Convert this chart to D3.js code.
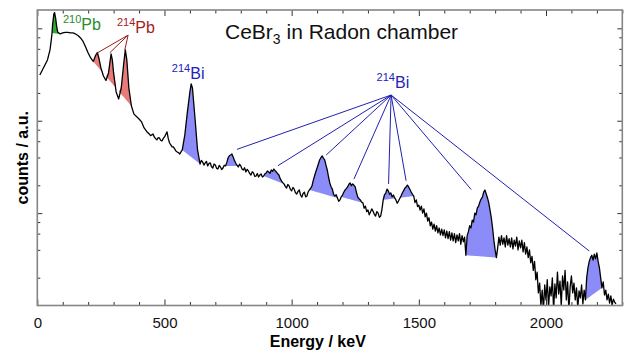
<!DOCTYPE html>
<html>
<head>
<meta charset="utf-8">
<script src="https://d3js.org/d3.v7.min.js"></script>
<style>
  body { margin: 0; background: #fff; }
  svg { display: block; font-family: Arial, "Liberation Sans", sans-serif; }
</style>
</head>
<body>
<script>
// spectrum: [energy keV, counts a.u.]
var spectrumLow = [
  [10,3130],[20,3540],[30,4020],[40,4550],[50,5840],[55,7490],[58,8900],[60,10850],[65,14280],[68,14830],
  [72,12930],[76,10590],[80,9150],[90,8700],[100,8920],[110,9030],[120,9030],[130,8920],[140,8920],
  [150,8700],[160,8380],[170,7880],[180,7220],[190,6290],[200,5420],[210,4780],[220,4380],[230,5150],
  [236,5480],[242,4780],[250,3730],[260,3050],[270,2730],[280,3290],[290,5280],[295,4550],[300,3290],
  [310,2050],[320,1720],[330,2260],[340,4220],[346,5840],[352,4550],[360,2260],[370,1443],[380,1180],
  [390,1110],[400,1043],[410,971],[420,836],[430,766],[440,720],[445,690],[450,702],[455,720],[460,668],
  [465,640],[470,620],[475,655],[480,651],[485,615],[490,604],[495,640],[500,668],[510,757],[515,640],
  [520,574],[525,548],[530,521],[535,520],[540,495],[545,470],[550,459],[555,452],[560,437],
  [570,483],[580,702],[590,1240],[600,2050],[605,2500],[610,2260],[620,1070],[630,483]
];
var spectrumMid = [
  [640,340],[645,372],[650,358],[655,331],[660,349],[665,362],[670,324],[675,345],[680,349],[685,318],
  [690,308],[695,340],[700,332],[705,305],[710,300],[715,328],[720,316],[725,296],[730,308],[735,330],
  [740,324],[745,352],[750,395],[755,418],[760,426],[765,437],[770,406],[775,372],[780,349],[785,330],
  [790,316],[795,338],[800,324],[805,300],[810,293],[815,310],[820,279],[825,298],[830,286],[835,268],
  [840,259],[845,280],[850,272],[855,250],[860,252],[865,268],[870,246],[875,258],[880,265],[885,246],
  [890,252],[895,266],[900,272],[905,286],[910,279],[915,270],[920,293],[925,284],[930,300],[935,288],
  [940,279],[945,266],[950,259],[955,236],[960,223],[965,214],[970,207],[975,195],[980,187],[985,204],
  [990,197],[995,181],[1000,174],[1005,190],[1010,182],[1015,166],[1020,161],[1025,172],[1030,178],
  [1035,157],[1040,149],[1045,163],[1050,169],[1055,150],[1060,153],[1065,170],[1070,178],[1075,186],
  [1080,197],[1085,226],[1090,252],[1095,280],[1100,308],[1105,340],[1110,376],[1115,398],[1120,416],
  [1125,392],[1130,376],[1135,330],[1140,293],[1145,246],[1150,212],[1155,193],[1160,182],[1165,160],
  [1170,153],[1175,158],[1180,146],[1185,134],[1190,139],[1195,150],[1200,157],[1205,168],[1210,178],
  [1215,184],[1220,192],[1225,205],[1230,212],[1235,198],[1240,207],[1245,200],[1250,192],[1255,166],
  [1260,149],[1265,143],[1270,139],[1275,132],[1280,129],[1285,113],[1290,119],[1295,104],[1300,108],
  [1305,96],[1310,103],[1315,111],[1320,105],[1325,97],[1330,93],[1335,104],[1340,100],[1345,90],
  [1350,93],[1355,110],[1360,139],[1365,158],[1370,165],[1375,182],[1380,174],[1385,160],[1390,165],
  [1395,150],[1400,157],[1405,146],[1410,139],[1415,128],[1420,135],[1425,144],[1430,153],[1435,165],
  [1440,174],[1445,186],[1450,192],[1455,201],[1460,192],[1465,180],[1470,169],[1475,160],[1480,153],
  [1485,130],[1490,139],[1495,118]
];
var spectrumHigh = [
  [1500,122],[1505,108],[1510,119],[1515,100],[1520,111],[1525,91],[1530,100],[1535,82],[1540,89],
  [1545,73],[1550,80],[1555,67],[1560,76],[1565,64],[1570,73],[1575,61],[1580,69],[1585,58],[1590,67],
  [1595,57],[1600,66],[1605,54],[1610,64],[1615,53],[1620,63],[1625,51],[1630,61],[1635,50],[1640,60],
  [1645,48],[1650,58],[1655,50],[1660,60],[1665,46],[1670,57],[1675,49],[1680,55],[1685,35],[1690,57],
  [1695,63],[1700,73],[1705,69],[1710,84],[1715,80],[1720,100],[1725,96],[1730,114],[1735,119],[1740,132],
  [1745,142],[1750,149],[1755,169],[1760,178],[1765,161],[1770,146],[1775,129],[1780,108],[1785,89],
  [1790,69],[1795,51],[1800,40],[1805,33],[1810,42],[1815,55],[1820,45],[1825,57],[1830,46],[1835,54],
  [1840,43],[1845,57],[1850,45],[1855,53],[1860,43],[1865,54],[1870,41],[1875,51],[1880,44],[1885,55],
  [1890,40],[1895,50],[1900,42],[1905,51],[1910,38],[1915,48],[1920,36],[1925,43],[1930,33],[1935,40],
  [1940,29],[1945,34],[1950,24],[1955,30],[1960,19],[1965,23],[1970,13.7],[1975,17.5],[1980,9.9],
  [1985,14.7],[1990,8.9],[1995,16.7],[2000,11.5],[2005,19],[2010,9.4],[2015,15.9],[2020,12.7],[2025,19.9],
  [2030,8.9],[2035,17.1],[2040,12.1],[2045,23],[2050,13.3],[2055,18.4],[2060,9.9],[2065,20.9],[2070,14.7],
  [2075,24],[2080,11.5],[2085,18],[2090,8.9],[2095,15.9],[2100,20.9],[2105,13.7],[2110,17.5],[2115,11.5],
  [2120,15.5],[2125,9.4],[2130,14.4],[2135,12.1],[2140,16.7],[2145,10.4],[2150,14.7],[2155,11.5],[2160,19.9],
  [2165,25.5],[2170,30],[2175,33],[2180,35],[2185,31],[2190,36],[2195,32],[2200,37],[2205,30],[2210,25.5],
  [2215,19.9],[2220,15.5],[2225,18],[2230,13],[2235,14.7],[2240,11.5],[2245,13.3],[2250,10.6],[2255,12.7],
  [2260,10.1],[2265,11.7],[2270,10.9],[2275,10.4]
];
var spectrum = spectrumLow.concat(spectrumMid, spectrumHigh);

// peak windows (keV) shaded above a straight background
var pb210Windows = [[58, 90]];
var pb214Windows = [[220, 370]];
var bi214Windows = [[565, 640], [740, 800], [890, 970], [1070, 1180], [1195, 1280], [1360, 1480], [1685, 1805], [2155, 2220]];

// pointer lines [keV, counts]
var pb214Apex = [357, 8450];
var pb214Targets = [[233, 5360], [285, 5440], [344, 5820]];
var bi214Apex = [1391, 1897];
var bi214Targets = [[785, 490], [946, 326], [1136, 426], [1245, 234], [1381, 207], [1450, 224], [1706, 180], [2170, 38.9]];

var xMajor = [0, 500, 1000, 1500, 2000];
var xTickLabels = ["0", "500", "1000", "1500", "2000"];

var width = 625, height = 351;

var svg = d3.select("body").append("svg")
    .attr("width", width)
    .attr("height", height);

var x = d3.scaleLinear().domain([0, 2300]).range([37.3, 622.3]);
var y = d3.scaleLog().domain([10, 15800]).range([305.5, 10]);

svg.append("clipPath").attr("id", "plot")
  .append("rect")
    .attr("x", x(0)).attr("y", y(15800))
    .attr("width", x(2300) - x(0)).attr("height", y(10) - y(15800));

var plot = svg.append("g").attr("clip-path", "url(#plot)");

function drawWindows(windows, color) {
  windows.forEach(function(w) {
    var pts = spectrum.filter(function(d) { return d[0] >= w[0] && d[0] <= w[1]; });
    var a = pts[0], b = pts[pts.length - 1];
    var base = d3.scaleLinear().domain([x(a[0]), x(b[0])]).range([y(a[1]), y(b[1])]);
    var area = d3.area()
        .x(function(d) { return x(d[0]); })
        .y0(function(d) { return base(x(d[0])); })
        .y1(function(d) { return Math.min(y(d[1]), base(x(d[0]))); });
    plot.append("path").datum(pts)
        .attr("d", area)
        .attr("fill", color);
  });
}

drawWindows(pb210Windows, "#33a833");
drawWindows(pb214Windows, "#e97a7a");
drawWindows(bi214Windows, "#8c8cf8");

plot.append("path").datum(spectrum)
    .attr("d", d3.line().x(function(d) { return x(d[0]); }).y(function(d) { return y(d[1]); }))
    .attr("fill", "none")
    .attr("stroke", "#000")
    .attr("stroke-width", 1.3)
    .attr("stroke-linejoin", "round");

// axes
var xMinor = d3.range(0, 2301, 100).filter(function(v) { return xMajor.indexOf(v) < 0; });
var yAll = y.ticks().filter(function(v) {
  var m = Math.round(v / Math.pow(10, Math.floor(Math.log10(v) + 1e-9)));
  return [1, 2, 4, 6, 8].indexOf(m) >= 0;
});
var yMajor = yAll.filter(function(v) { return Math.abs(Math.log10(v) - Math.round(Math.log10(v))) < 1e-6 && v > 10; });
var yMinor = yAll.filter(function(v) { return yMajor.indexOf(v) < 0 && v > 10; });

function styleAxis(g) {
  g.select(".domain").remove();
  g.selectAll(".tick line").attr("stroke", "#333").attr("stroke-width", 1);
}

svg.append("g").attr("transform", "translate(0," + y(10) + ")")
    .call(d3.axisBottom(x).tickValues(xMinor).tickSizeInner(-3.5).tickSizeOuter(0).tickFormat(""))
    .call(styleAxis);
svg.append("g").attr("transform", "translate(0," + y(10) + ")")
    .call(d3.axisBottom(x).tickValues(xMajor).tickSizeInner(-6).tickSizeOuter(0).tickPadding(12)
      .tickFormat(function(d, i) { return xTickLabels[i]; }))
    .call(styleAxis)
    .call(function(g) {
      g.selectAll("text").attr("font-size", 15).attr("fill", "#111")
        .attr("font-family", "Arial, 'Liberation Sans', sans-serif");
    });
svg.append("g").attr("transform", "translate(0," + y(15800) + ")")
    .call(d3.axisTop(x).tickValues(xMinor).tickSizeInner(-3.5).tickSizeOuter(0).tickFormat(""))
    .call(styleAxis);
svg.append("g").attr("transform", "translate(0," + y(15800) + ")")
    .call(d3.axisTop(x).tickValues(xMajor).tickSizeInner(-6).tickSizeOuter(0).tickFormat(""))
    .call(styleAxis);
[[d3.axisLeft, x(0)], [d3.axisRight, x(2300)]].forEach(function(p) {
  svg.append("g").attr("transform", "translate(" + p[1] + ",0)")
      .call(p[0](y).tickValues(yMinor).tickSizeInner(-3).tickSizeOuter(0).tickFormat(""))
      .call(styleAxis);
  svg.append("g").attr("transform", "translate(" + p[1] + ",0)")
      .call(p[0](y).tickValues(yMajor).tickSizeInner(-5).tickSizeOuter(0).tickFormat(""))
      .call(styleAxis);
});

svg.append("rect")
    .attr("x", x(0)).attr("y", y(15800))
    .attr("width", x(2300) - x(0)).attr("height", y(10) - y(15800))
    .attr("fill", "none")
    .attr("stroke", "#858585")
    .attr("stroke-width", 1.6);

// axis titles
svg.append("text")
    .attr("x", (x(0) + x(2300)) / 2 - 12).attr("y", 347)
    .attr("text-anchor", "middle")
    .attr("font-size", 16).attr("font-weight", "bold")
    .text("Energy / keV");
svg.append("text")
    .attr("transform", "translate(28," + ((y(10) + y(15800)) / 2) + ") rotate(-90)")
    .attr("text-anchor", "middle")
    .attr("font-size", 16).attr("font-weight", "bold")
    .text("counts / a.u.");

// title
var title = svg.append("text").attr("x", 225).attr("y", 39).attr("font-size", 21).attr("fill", "#111");
title.append("tspan").text("CeBr");
title.append("tspan").attr("font-size", 14).attr("dy", 5).text("3");
title.append("tspan").attr("dy", -5).text(" in Radon chamber");

// pointer lines
function drawPointers(apex, targets, color) {
  svg.selectAll(null).data(targets).enter().append("line")
      .attr("x1", x(apex[0])).attr("y1", y(apex[1]))
      .attr("x2", function(d) { return x(d[0]); })
      .attr("y2", function(d) { return y(d[1]); })
      .attr("stroke", color)
      .attr("stroke-width", 1);
}
drawPointers(pb214Apex, pb214Targets, "#9c1c1c");
drawPointers(bi214Apex, bi214Targets, "#2020b0");

// isotope labels
function isotope(e, c, mass, el, color) {
  var t = svg.append("text").attr("x", x(e)).attr("y", y(c)).attr("fill", color);
  t.append("tspan").attr("font-size", 11).attr("dy", -7).text(mass);
  t.append("tspan").attr("font-size", 16).attr("dy", 7).text(el);
}
isotope(101, 9585, "210", "Pb", "#2a8c2a");
isotope(313, 8830, "214", "Pb", "#a31c1c");
isotope(529, 2825, "214", "Bi", "#2222c0");
isotope(1334, 2245, "214", "Bi", "#2222c0");
</script>
</body>
</html>
